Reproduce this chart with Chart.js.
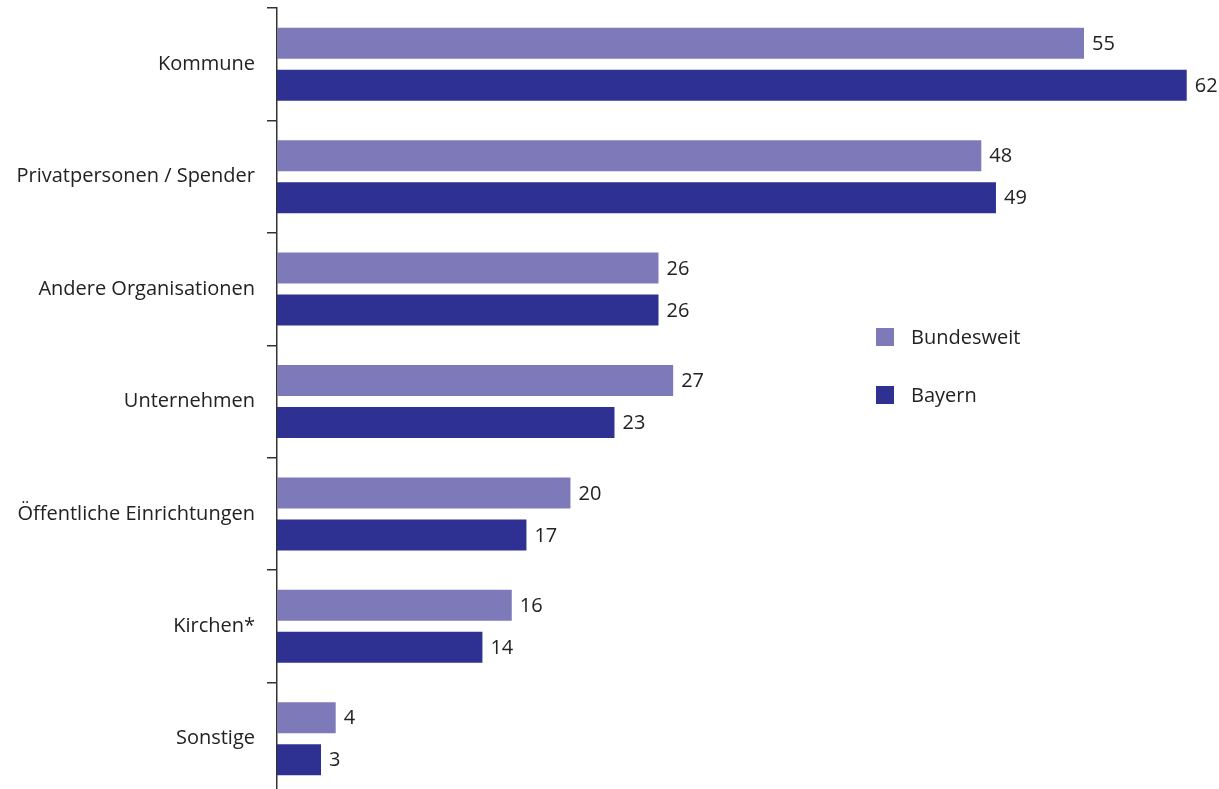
<!DOCTYPE html>
<html>
<head>
<meta charset="utf-8">
<script src="https://cdn.jsdelivr.net/npm/chart.js@4"></script>
<style>
  html, body { margin: 0; padding: 0; background: #fff; overflow: hidden; }
</style>
</head>
<body>
<canvas id="chart" width="1219" height="800"></canvas>
<script>
const categories = ["Kommune", "Privatpersonen / Spender", "Andere Organisationen", "Unternehmen",
                    "Öffentliche Einrichtungen", "Kirchen*", "Sonstige"];
const bundesweit = [55, 48, 26, 27, 20, 16, 4];
const bayern = [62, 49, 26, 23, 17, 14, 3];

const lightColor = "#7e79b8";
const darkColor = "#2e3192";
const textColor = "#222";
const fontFamily = "'Open Sans', sans-serif";

// value labels right of each bar
const valueLabels = {
  id: "valueLabels",
  afterDatasetsDraw(chart) {
    const ctx = chart.ctx;
    ctx.save();
    ctx.font = "20px " + fontFamily;
    ctx.fillStyle = textColor;
    ctx.textAlign = "left";
    ctx.textBaseline = "middle";
    chart.data.datasets.forEach((ds, i) => {
      chart.getDatasetMeta(i).data.forEach((bar, j) => {
        ctx.fillText(ds.data[j], bar.x + 8, bar.y + 1);
      });
    });
    ctx.restore();
  }
};

// legend in the middle right of the plot
const sideLegend = {
  id: "sideLegend",
  afterDraw(chart) {
    const ctx = chart.ctx;
    ctx.save();
    ctx.font = "20px " + fontFamily;
    ctx.textBaseline = "middle";
    chart.data.datasets.forEach((ds, i) => {
      const y = 337 + i * 58;
      ctx.fillStyle = ds.backgroundColor;
      ctx.fillRect(876, y - 9, 18, 18);
      ctx.fillStyle = textColor;
      ctx.fillText(ds.label, 911, y + 1);
    });
    ctx.restore();
  }
};

new Chart(document.getElementById("chart"), {
  type: "bar",
  data: {
    labels: categories,
    datasets: [
      { label: "Bundesweit", data: bundesweit, backgroundColor: lightColor },
      { label: "Bayern", data: bayern, backgroundColor: darkColor }
    ]
  },
  options: {
    indexAxis: "y",
    responsive: false,
    animation: false,
    categoryPercentage: 0.747,
    barPercentage: 0.738,
    layout: { padding: { top: 8, bottom: 5, left: 0, right: 0 } },
    plugins: {
      legend: { display: false },
      tooltip: { enabled: false }
    },
    scales: {
      x: {
        display: false,
        min: 0,
        max: 64.2
      },
      y: {
        afterFit(scale) {
          scale.width = 277;
          scale.paddingTop = 0;
          scale.paddingBottom = 0;
        },
        grid: {
          offset: true,
          drawOnChartArea: false,
          drawTicks: true,
          tickLength: 10,
          color: "#333",
          lineWidth: 1.5
        },
        border: { display: true, color: "#333", width: 1.5 },
        ticks: {
          padding: 12,
          color: textColor,
          font: { family: fontFamily, size: 20 }
        }
      }
    }
  },
  plugins: [valueLabels, sideLegend]
});
</script>
</body>
</html>
